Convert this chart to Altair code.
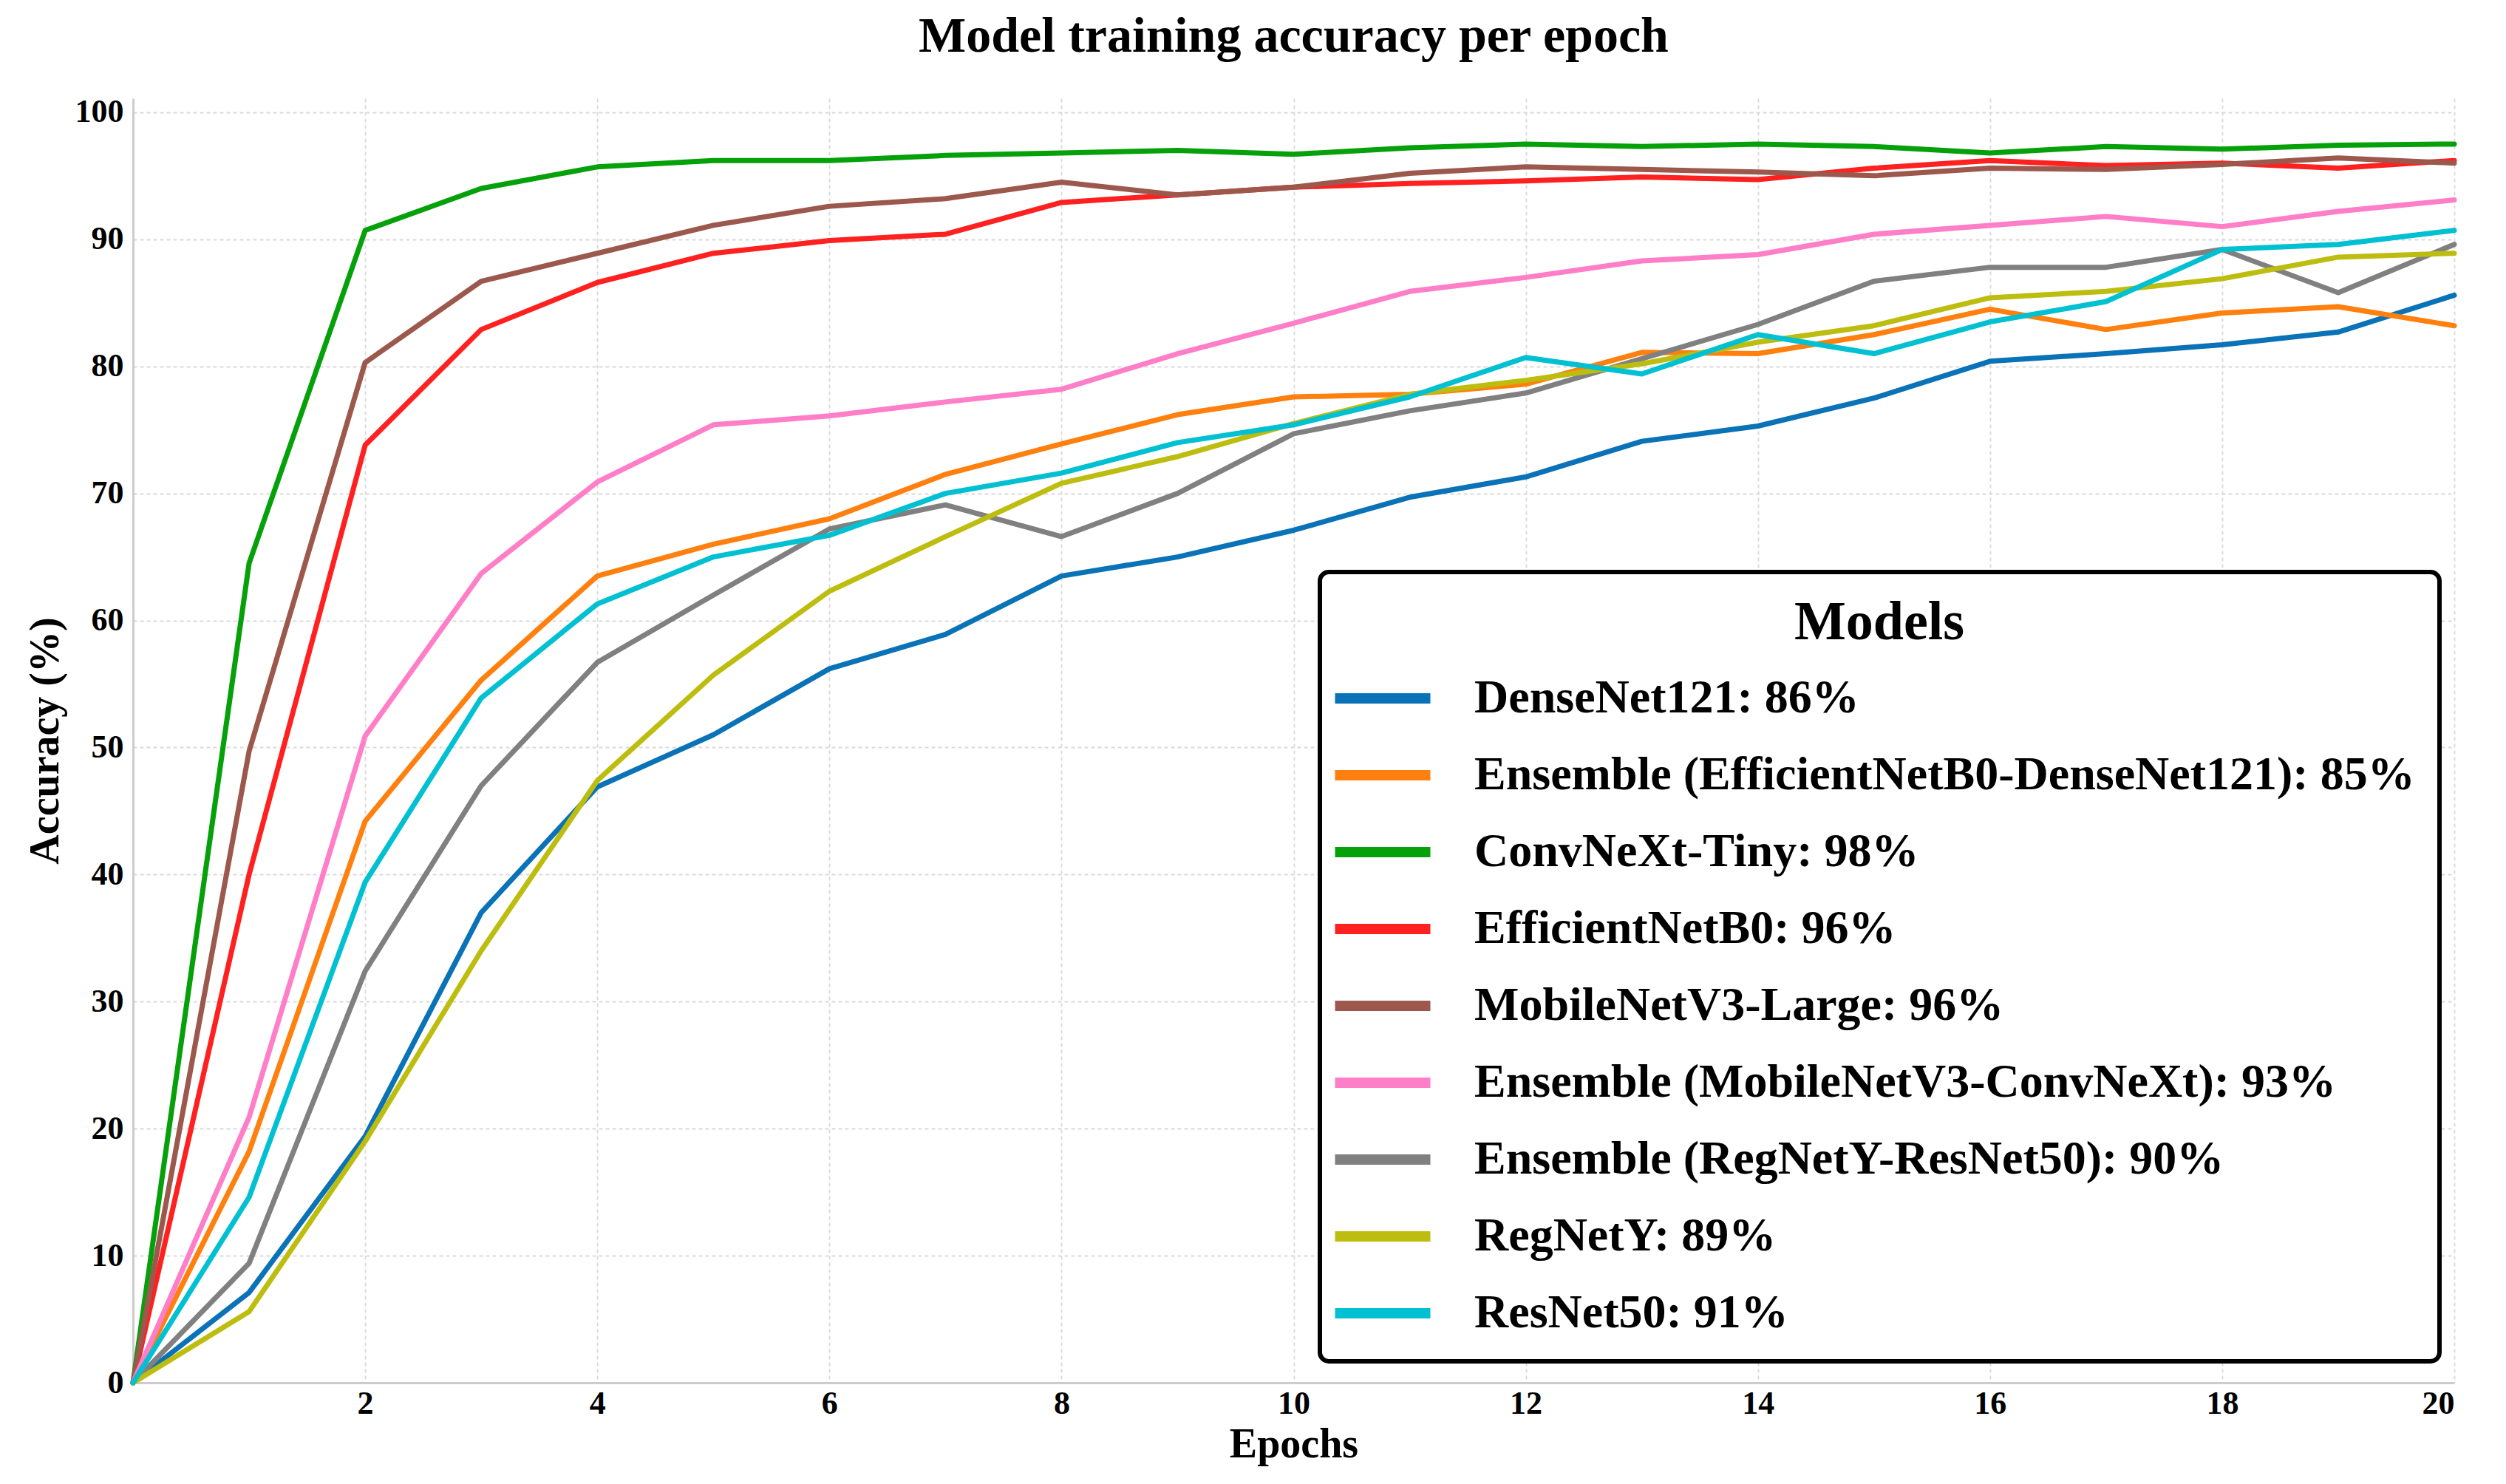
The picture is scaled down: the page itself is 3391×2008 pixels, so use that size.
import altair as alt
import pandas as pd

epochs = list(range(0, 21))

models = [
    "DenseNet121: 86%",
    "Ensemble (EfficientNetB0-DenseNet121): 85%",
    "ConvNeXt-Tiny: 98%",
    "EfficientNetB0: 96%",
    "MobileNetV3-Large: 96%",
    "Ensemble (MobileNetV3-ConvNeXt): 93%",
    "Ensemble (RegNetY-ResNet50): 90%",
    "RegNetY: 89%",
    "ResNet50: 91%",
]

colors = ["#0a72b6", "#ff800e", "#06a10a", "#ff2020", "#9c584c",
          "#ff7ec8", "#808080", "#bdbd10", "#00c0d2"]

densenet121 = [0, 7.1, 19.4, 37.0, 46.9, 51.0, 56.2, 58.9, 63.5, 65.0, 67.1,
               69.7, 71.3, 74.1, 75.3, 77.5, 80.4, 81.0, 81.7, 82.7, 85.6]
ens_eff_dense = [0, 18.2, 44.2, 55.3, 63.5, 66.0, 68.0, 71.5, 73.9, 76.2, 77.6,
                 77.8, 78.6, 81.1, 81.0, 82.5, 84.5, 82.9, 84.2, 84.7, 83.2]
convnext_tiny = [0, 64.5, 90.7, 94.0, 95.7, 96.2, 96.2, 96.6, 96.8, 97.0, 96.7,
                 97.2, 97.5, 97.3, 97.5, 97.3, 96.8, 97.3, 97.1, 97.4, 97.5]
efficientnetb0 = [0, 40.0, 73.8, 82.9, 86.6, 88.9, 89.9, 90.4, 92.9, 93.5, 94.1,
                  94.4, 94.6, 94.9, 94.7, 95.6, 96.2, 95.8, 96.0, 95.6, 96.2]
mobilenetv3 = [0, 49.7, 80.3, 86.7, 88.9, 91.1, 92.6, 93.2, 94.5, 93.5, 94.1,
               95.2, 95.7, 95.5, 95.3, 95.0, 95.6, 95.5, 95.9, 96.4, 96.0]
ens_mob_conv = [0, 20.9, 50.9, 63.7, 70.9, 75.4, 76.1, 77.2, 78.2, 81.0, 83.4,
                85.9, 87.0, 88.3, 88.8, 90.4, 91.1, 91.8, 91.0, 92.2, 93.1]
ens_reg_res = [0, 9.4, 32.4, 47.0, 56.7, 62.0, 67.2, 69.1, 66.6, 70.0, 74.7,
               76.5, 77.9, 80.6, 83.3, 86.7, 87.8, 87.8, 89.2, 85.8, 89.6]
regnety = [0, 5.6, 19.0, 34.0, 47.4, 55.7, 62.3, 66.6, 70.8, 72.9, 75.5,
           77.8, 78.9, 80.2, 81.9, 83.2, 85.4, 85.9, 86.9, 88.6, 88.9]
resnet50 = [0, 14.6, 39.4, 53.9, 61.3, 65.0, 66.7, 70.0, 71.6, 74.0, 75.4,
            77.6, 80.7, 79.4, 82.5, 81.0, 83.5, 85.1, 89.2, 89.6, 90.7]

series = [densenet121, ens_eff_dense, convnext_tiny, efficientnetb0, mobilenetv3,
          ens_mob_conv, ens_reg_res, regnety, resnet50]

x_ticks = [2, 4, 6, 8, 10, 12, 14, 16, 18, 20]
y_ticks = [0, 10, 20, 30, 40, 50, 60, 70, 80, 90, 100]

rows = []
for i, (m, vals) in enumerate(zip(models, series)):
    for e, v in zip(epochs, vals):
        rows.append({"model": m, "order": i, "epoch": e, "acc": v})
df = pd.DataFrame(rows)

FONT = "Liberation Serif"

chart = alt.Chart(df).mark_line(strokeWidth=7, strokeCap="round", strokeJoin="round").encode(
    x=alt.X("epoch:Q",
            scale=alt.Scale(domain=[0, 20], nice=False, zero=False),
            axis=alt.Axis(values=x_ticks, title="Epochs", labelPadding=6, titlePadding=6)),
    y=alt.Y("acc:Q",
            scale=alt.Scale(domain=[0, 101.1], nice=False),
            axis=alt.Axis(values=y_ticks, title="Accuracy (%)", labelPadding=13, titlePadding=11)),
    color=alt.Color("model:N",
                    scale=alt.Scale(domain=models, range=colors),
                    sort=models,
                    legend=alt.Legend(
                        title="Models", orient="none", legendX=1606, legendY=641,
                        symbolType="M-2.07,0L3.93,0", symbolSize=1849, symbolStrokeWidth=14,
                        labelFont=FONT, labelFontSize=64, labelFontWeight="bold",
                        labelColor="black", labelLimit=2000, labelOffset=112,
                        rowPadding=40, padding=33, strokeColor="black",
                        cornerRadius=12, fillColor="white",
                        titleFont=FONT, titleFontSize=74, titleFontWeight="bold",
                        titleColor="black", titleAnchor="middle", titlePadding=32,
                        titleLimit=2000)),
    order=alt.Order("order:Q"),
    detail="model:N",
).properties(
    width=3141,
    height=1738,
    title=alt.Title("Model training accuracy per epoch", font=FONT, fontSize=68,
                    fontWeight="bold", color="black", anchor="middle", offset=46),
    autosize=alt.AutoSizeParams(type="none"),
    padding={"left": 172, "top": 125, "right": 50, "bottom": 132},
).configure_view(
    strokeWidth=0
).configure_axis(
    labelFont=FONT, labelFontSize=44, labelFontWeight="bold", labelColor="black",
    titleFont=FONT, titleFontSize=56, titleFontWeight="bold", titleColor="black",
    ticks=False, tickSize=0,
    domainColor="#cccccc", domainWidth=3,
    gridColor="#d9d9d9", gridDash=[5, 4], gridWidth=1.8,
).configure_legend(
    strokeWidth=6
)

chart.save("out.html", embed_options={"renderer": "svg", "actions": False})
